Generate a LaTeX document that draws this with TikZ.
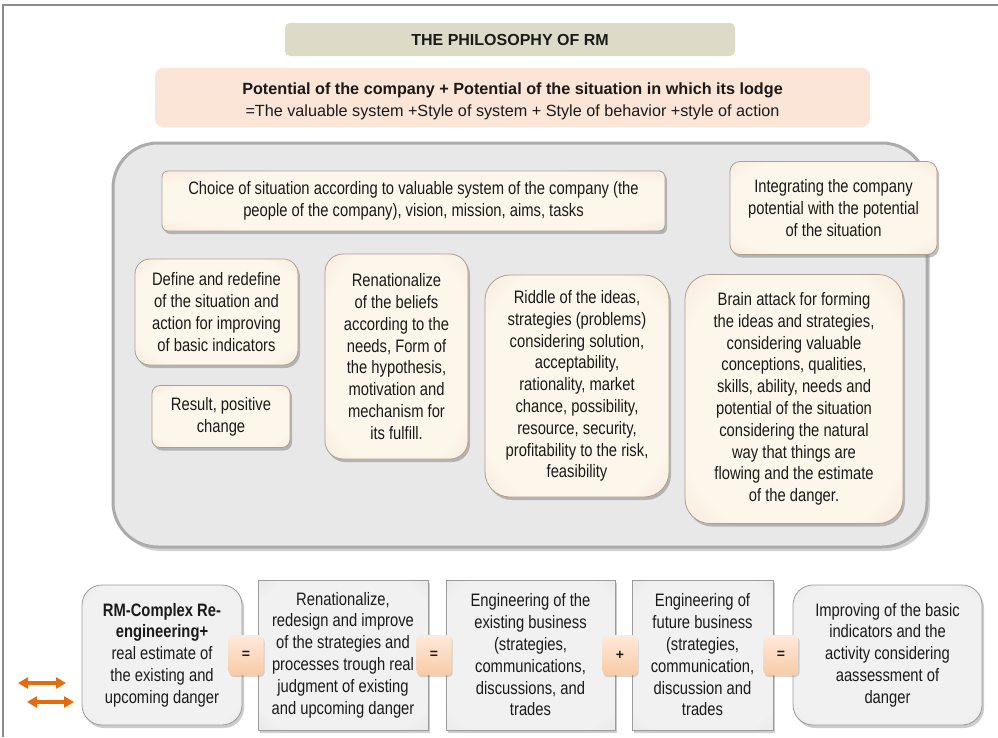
\documentclass[tikz,border=0pt]{standalone}
\usepackage{fontspec}
\setmainfont{Liberation Sans}
\newfontfamily\bodyfont[FakeStretch=0.82]{Liberation Sans}
\usetikzlibrary{shadows,arrows.meta}
\definecolor{frameline}{HTML}{8C8C8C}
\definecolor{titlefill}{HTML}{DDDAC7}
\definecolor{potfill}{HTML}{FBE5D6}
\definecolor{bigfill}{HTML}{E8E8E8}
\definecolor{bigline}{HTML}{ABABAB}
\definecolor{creamin}{HTML}{FDF6EA}
\definecolor{creamout}{HTML}{EBD7C6}
\definecolor{creamline}{HTML}{AE9E8E}
\definecolor{grayin}{HTML}{F1F1F1}
\definecolor{grayout}{HTML}{D2D2D2}
\definecolor{grayline}{HTML}{9C9C9C}
\definecolor{optop}{HTML}{FEEADB}
\definecolor{opbot}{HTML}{F9CBA6}
\definecolor{arrowor}{HTML}{E46C0A}
\definecolor{txt}{HTML}{1A1A1A}
\pgfdeclareradialshading{creamsh}{\pgfpoint{0bp}{0bp}}{color(0bp)=(creamin); color(28bp)=(creamin); color(50bp)=(creamout); color(72bp)=(creamout)}
\pgfdeclareradialshading{graysh}{\pgfpoint{0bp}{0bp}}{color(0bp)=(grayin); color(30bp)=(grayin); color(50bp)=(grayout); color(72bp)=(grayout)}
\tikzset{
  bodytext/.style={font=\bodyfont\fontsize{18}{21.8}\selectfont, text=txt, align=center, inner sep=0pt},
  creambox/.style={bodytext, draw=creamline, line width=0.8pt, shade, shading=creamsh,
     drop shadow={shadow xshift=2pt, shadow yshift=-3pt, opacity=0.5}},
  graybox/.style={bodytext, draw=grayline, line width=0.8pt, shade, shading=graysh,
     drop shadow={shadow xshift=2pt, shadow yshift=-3pt, opacity=0.4}},
  opbox/.style={font=\bfseries\fontsize{14}{16}\selectfont, text=txt, draw=none, top color=optop, bottom color=opbot,
     rounded corners=4pt, minimum width=35pt, minimum height=40pt, inner sep=0pt,
     drop shadow={shadow xshift=1pt, shadow yshift=-2pt, opacity=0.3}},
  dblarrow/.style={arrowor, line width=3.2pt, {Triangle[length=10pt,width=11pt]}-{Triangle[length=10pt,width=11pt]}}
}
\begin{document}
\begin{tikzpicture}[x=1pt,y=-1pt]
\useasboundingbox (0,0) rectangle (998,737);
\fill[white] (0,0) rectangle (998,737);
\draw[frameline, line width=2pt] (3,737) -- (3,5) -- (998,5);

% title
\node[fill=titlefill, rounded corners=5pt, minimum width=450pt, minimum height=33pt, inner sep=0pt,
      font=\bfseries\fontsize{16}{18}\selectfont, text=txt] (title) at (510,39.5) {THE PHILOSOPHY OF RM};

% potential
\node[fill=potfill, rounded corners=8pt, minimum width=715pt, minimum height=59pt, inner sep=0pt] (pot) at (512.5,97.5) {};
\node[align=center, inner sep=0pt, font=\fontsize{16.2}{22}\selectfont, text=txt] (pottext) at (512.5,101)
  {\textbf{Potential of the company + Potential of the situation in which its lodge}\\
   =The valuable system +Style of system + Style of behavior +style of action};

% big gray panel
\draw[bigline, line width=3pt, fill=bigfill, rounded corners=45pt,
      drop shadow={shadow xshift=3pt, shadow yshift=-4pt, opacity=0.35}] (113,143) rectangle (927,547);

% inner cream boxes
\node[creambox, rounded corners=6pt, minimum width=503pt, minimum height=60pt] (choice) at (413.5,201)
  {Choice of situation according to valuable system of the company (the\\
   people of the company), vision, mission, aims, tasks};
\node[creambox, rounded corners=10pt, minimum width=207pt, minimum height=93pt] (integ) at (833.5,208)
  {Integrating the company\\potential with the potential\\of the situation};
\node[creambox, rounded corners=15pt, minimum width=163pt, minimum height=106pt] (define) at (216.5,312)
  {Define and redefine\\of the situation and\\action for improving\\of basic indicators};
\node[creambox, rounded corners=8pt, minimum width=138pt, minimum height=62pt] (result) at (221,416.5)
  {Result, positive\\change};
\node[creambox, rounded corners=18pt, minimum width=143pt, minimum height=205pt] (renat) at (396.5,356.5)
  {Renationalize\\of the beliefs\\according to the\\needs, Form of\\the hypothesis,\\motivation and\\mechanism for\\its fulfill.};
\node[creambox, rounded corners=25pt, minimum width=184pt, minimum height=222pt] (riddle) at (577,386)
  {Riddle of the ideas,\\strategies (problems)\\considering solution,\\acceptability,\\rationality, market\\chance, possibility,\\resource, security,\\profitability to the risk,\\feasibility};
\node[creambox, rounded corners=25pt, minimum width=218pt, minimum height=249pt] (brain) at (794,399)
  {Brain attack for forming\\the ideas and strategies,\\considering valuable\\conceptions, qualities,\\skills, ability, needs and\\potential of the situation\\considering the natural\\way that things are\\flowing and the estimate\\of the danger.};

% bottom row
\node[graybox, rounded corners=20pt, minimum width=160pt, minimum height=140pt] (b1) at (162,655)
  {\textbf{RM-Complex Re-}\\\textbf{engineering+}\\real estimate of\\the existing and\\upcoming danger};
\node[graybox, minimum width=170pt, minimum height=150pt] (b2) at (343,655)
  {Renationalize,\\redesign and improve\\of the strategies and\\processes trough real\\judgment of existing\\and upcoming danger};
\node[graybox, minimum width=169pt, minimum height=150pt] (b3) at (530.5,655)
  {Engineering of the\\existing business\\(strategies,\\communications,\\discussions, and\\trades};
\node[graybox, minimum width=141pt, minimum height=150pt] (b4) at (702.5,655)
  {Engineering of\\future business\\(strategies,\\communication,\\discussion and\\trades};
\node[graybox, rounded corners=20pt, minimum width=189pt, minimum height=140pt] (b5) at (887.5,655)
  {Improving of the basic\\indicators and the\\activity considering\\aassessment of\\danger};

\node[opbox] (op1) at (246,655) {=};
\node[opbox] (op2) at (434,655) {=};
\node[opbox] (op3) at (620,655) {+};
\node[opbox] (op4) at (781,655) {=};

% arrows
\coordinate (a1l) at (18,683);
\coordinate (a1r) at (66,683);
\coordinate (a2l) at (27,702);
\coordinate (a2r) at (74,702);
\draw[dblarrow] (a1l) -- (a1r);
\draw[dblarrow] (a2l) -- (a2r);
\end{tikzpicture}
\end{document}
